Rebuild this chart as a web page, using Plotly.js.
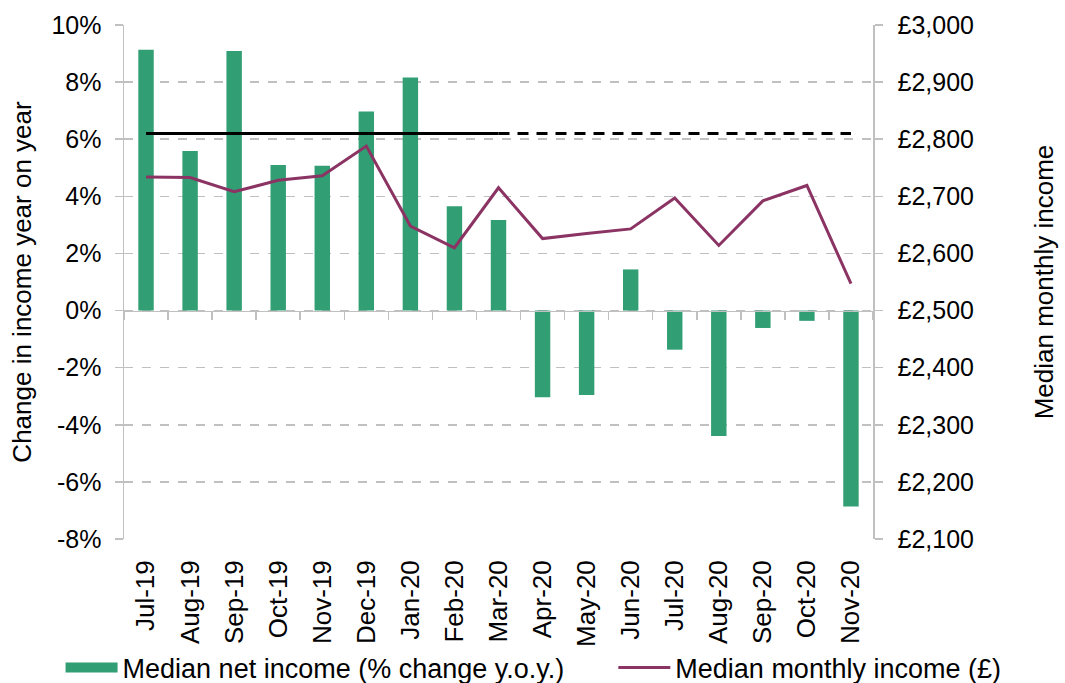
<!DOCTYPE html>
<html>
<head>
<meta charset="utf-8">
<script src="https://cdn.plot.ly/plotly-3.0.1.min.js"></script>
<style>html,body{margin:0;padding:0;background:#fff;}#chart{width:1065px;height:683px;}</style>
</head>
<body>
<div id="chart"></div>
<script>
const months = ['Jul-19','Aug-19','Sep-19','Oct-19','Nov-19','Dec-19','Jan-20','Feb-20','Mar-20','Apr-20','May-20','Jun-20','Jul-20','Aug-20','Sep-20','Oct-20','Nov-20'];
const netIncomeChange = [9.13,5.59,9.09,5.10,5.07,6.97,8.16,3.65,3.17,-3.04,-2.96,1.44,-1.37,-4.39,-0.61,-0.36,-6.86];
const monthlyIncome = [2734,2733,2708,2728,2736,2788,2648,2610,2715,2626,2635,2643,2697,2614,2692,2719,2547];
const refSolidMonths = ['Jul-19','Mar-20'];
const refSolidValues = [2810,2810];
const refDashMonths = ['Mar-20','Nov-20'];
const refDashValues = [2810,2810];
const leftTickVals = [-8,-6,-4,-2,0,2,4,6,8,10];
const leftTickText = ['-8%','-6%','-4%','-2%','0%','2%','4%','6%','8%','10%'];
const rightTickVals = [2100,2200,2300,2400,2500,2600,2700,2800,2900,3000];
const rightTickText = ['£2,100','£2,200','£2,300','£2,400','£2,500','£2,600','£2,700','£2,800','£2,900','£3,000'];

const GREEN = '#319e74';
const PURPLE = '#8b3463';
const GRID = '#c0c0c0';
const FONT = 'Liberation Sans, Arial, sans-serif';
const FT = 25;  // tick labels
const FX = 26;  // category labels
const FL = 27;  // legend
const FTI = 26; // axis titles

const traces = [
  {type:'bar', x:months, y:netIncomeChange, marker:{color:GREEN}, name:'Median net income (% change y.o.y.)', showlegend:false, xaxis:'x', yaxis:'y'},
  {type:'scatter', mode:'lines', x:[null], y:[null], line:{color:GREEN, width:13}, name:'Median net income (% change y.o.y.)', xaxis:'x', yaxis:'y', hoverinfo:'skip', legend:'legend'},
  {type:'scatter', mode:'lines', x:months, y:monthlyIncome, line:{color:PURPLE, width:3}, name:'Median monthly income (£)', xaxis:'x', yaxis:'y2', legend:'legend2'},
  {type:'scatter', mode:'lines', x:refSolidMonths, y:refSolidValues, line:{color:'#000', width:3}, showlegend:false, xaxis:'x2', yaxis:'y3'},
  {type:'scatter', mode:'lines', x:refDashMonths, y:refDashValues, line:{color:'#000', width:3, dash:'11px,8px'}, showlegend:false, xaxis:'x2', yaxis:'y3'}
];

const layout = {
  width:1065, height:683,
  margin:{l:124, r:192, t:25, b:144, autoexpand:false},
  paper_bgcolor:'#fff', plot_bgcolor:'#fff',
  font:{family:FONT, size:FT, color:'#000'},
  bargap:0.65,
  showlegend:true,
  legend:{orientation:'h', x:-0.0847, xanchor:'left', y:-0.251, yanchor:'middle', font:{size:FL, family:FONT}, itemwidth:52, bgcolor:'rgba(0,0,0,0)'},
  legend2:{orientation:'h', x:0.6533, xanchor:'left', y:-0.251, yanchor:'middle', font:{size:FL, family:FONT}, itemwidth:52, bgcolor:'rgba(0,0,0,0)'},
  xaxis:{type:'category', categoryarray:months, tickangle:-90, showgrid:false, showline:false, ticks:'', zeroline:false, tickfont:{size:FX}, ticklabelstandoff:15, range:[-0.5,16.5], automargin:false},
  xaxis2:{type:'category', overlaying:'x', matches:'x', anchor:'free', position:8/18, showline:true, linecolor:GRID, linewidth:1.5, ticks:'outside', tickson:'boundaries', ticklen:8, tickcolor:GRID, tickwidth:1.5, showticklabels:false, showgrid:false, zeroline:false, automargin:false},
  yaxis:{range:[-8,10], tickvals:leftTickVals, ticktext:leftTickText, showgrid:true, gridcolor:GRID, griddash:'dash', gridwidth:1.5, zeroline:false, showline:true, linecolor:GRID, linewidth:1.5, ticks:'outside', ticklen:8, tickcolor:GRID, tickwidth:1.5, automargin:false, ticklabelstandoff:8,
    title:{text:'Change in income year on year', font:{size:FTI}, standoff:12}},
  yaxis2:{range:[2100,3000], overlaying:'y', side:'right', anchor:'x', tickvals:rightTickVals, ticktext:rightTickText, showgrid:false, zeroline:false, showline:true, linecolor:GRID, linewidth:1.5, ticks:'outside', ticklen:8, tickcolor:GRID, tickwidth:1.5, automargin:false, ticklabelstandoff:10,
    title:{text:'Median monthly income', font:{size:FTI}, standoff:62}},
  yaxis3:{range:[2100,3000], overlaying:'y', anchor:'x2', visible:false}
};

Plotly.newPlot('chart', traces, layout, {displayModeBar:false, staticPlot:true});
</script>
</body>
</html>
